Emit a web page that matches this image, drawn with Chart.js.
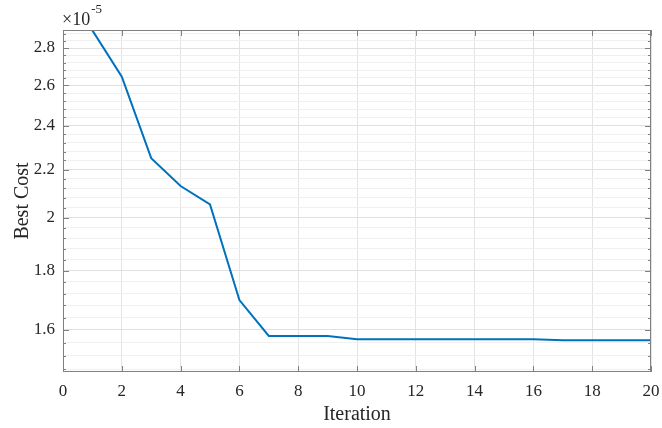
<!DOCTYPE html>
<html>
<head>
<meta charset="utf-8">
<script src="https://cdn.jsdelivr.net/npm/chart.js@4.4.1/dist/chart.umd.min.js"></script>
<style>
  html, body { margin: 0; padding: 0; background: #ffffff; }
  #wrap { width: 662px; height: 428px; }
</style>
</head>
<body>
<div id="wrap"><canvas id="c" width="662" height="428"></canvas></div>
<script>
// ---- data (Best Cost shown in units of 1e-5) ----
const iterations = [1,2,3,4,5,6,7,8,9,10,11,12,13,14,15,16,17,18,19,20];
const bestCost = [2.90,2.645,2.25,2.129,2.053,1.698,1.581,1.581,1.581,1.571,1.571,1.571,1.571,1.571,1.571,1.571,1.568,1.568,1.568,1.568];
const xTicks = [0,2,4,6,8,10,12,14,16,18,20];
const yMajorTicks = [1.6,1.8,2,2.2,2.4,2.6,2.8];
const yMinorTicks = [1.48,1.52,1.56,1.64,1.68,1.72,1.76,1.84,1.88,1.92,1.96,2.04,2.08,2.12,2.16,2.24,2.28,2.32,2.36,2.44,2.48,2.52,2.56,2.64,2.68,2.72,2.76,2.84,2.88];
const yRange = [1.472, 2.902];
const xRange = [0, 20];
const xLabel = 'Iteration';
const yLabel = 'Best Cost';
const exponentText = ['\u00d710', '-5'];

const isMajorY = v => yMajorTicks.some(m => Math.abs(m - v) < 1e-6);
const FONT = '"Liberation Serif", "Times New Roman", serif';

const boxPlugin = {
  id: 'matlabBox',
  afterDraw(chart) {
    const {ctx, chartArea: a, scales} = chart;
    const xs = scales.x, ys = scales.y;
    ctx.save();
    ctx.strokeStyle = '#808080';
    ctx.lineWidth = 1;
    // ticks on all four sides, pointing inward
    ctx.beginPath();
    xTicks.forEach(v => {
      const px = Math.round(xs.getPixelForValue(v)) + 0.5;
      ctx.moveTo(px, a.bottom); ctx.lineTo(px, a.bottom - 6);
      ctx.moveTo(px, a.top); ctx.lineTo(px, a.top + 6);
    });
    const allY = yMajorTicks.map(v => [v, 6]).concat(yMinorTicks.map(v => [v, 3]));
    allY.forEach(([v, len]) => {
      const py = Math.round(ys.getPixelForValue(v)) + 0.5;
      ctx.moveTo(a.left, py); ctx.lineTo(a.left + len, py);
      ctx.moveTo(a.right, py); ctx.lineTo(a.right - len, py);
    });
    ctx.stroke();
    // box
    ctx.strokeRect(Math.round(a.left) + 0.5, Math.round(a.top) + 0.5,
                   Math.round(a.right - a.left) - 1, Math.round(a.bottom - a.top) - 1);
    // exponent label
    ctx.fillStyle = '#262626';
    ctx.textBaseline = 'alphabetic';
    ctx.textAlign = 'left';
    ctx.font = '18px ' + FONT;
    const x0 = a.left - 1;
    ctx.fillText(exponentText[0], x0, a.top - 5);
    const w = ctx.measureText(exponentText[0]).width;
    ctx.font = '13px ' + FONT;
    ctx.fillText(exponentText[1], x0 + w + 1, a.top - 17);
    ctx.restore();
  }
};

new Chart(document.getElementById('c'), {
  type: 'line',
  data: {
    datasets: [{
      data: iterations.map((x, i) => ({x: x, y: bestCost[i]})),
      borderColor: '#0072BD',
      borderWidth: 2,
      pointRadius: 0,
      tension: 0,
      fill: false
    }]
  },
  options: {
    responsive: false,
    animation: false,
    devicePixelRatio: 1,
    layout: { padding: { top: 30, right: 11, left: 0, bottom: 0 } },
    plugins: { legend: { display: false }, tooltip: { enabled: false } },
    scales: {
      x: {
        type: 'linear',
        min: xRange[0], max: xRange[1],
        afterBuildTicks: s => { s.ticks = xTicks.map(v => ({value: v})); },
        afterFit: s => { s.height = 56; s.paddingLeft = 0; s.paddingRight = 0; },
        border: { display: false },
        grid: { color: '#e3e3e3', drawTicks: false, lineWidth: 1 },
        ticks: { autoSkip: false, maxRotation: 0, padding: 9, color: '#262626',
                 font: { family: FONT, size: 17 }, callback: v => String(v) },
        title: { display: true, text: xLabel, color: '#262626',
                 font: { family: FONT, size: 20 }, padding: { top: 0, bottom: 1 } }
      },
      y: {
        type: 'logarithmic',
        min: yRange[0], max: yRange[1],
        afterBuildTicks: s => {
          s.ticks = yMajorTicks.concat(yMinorTicks).sort((a, b) => a - b).map(v => ({value: v}));
        },
        afterFit: s => { s.width = 63; s.paddingTop = 0; s.paddingBottom = 0; },
        border: { display: false },
        grid: {
          drawTicks: false,
          lineWidth: 1,
          color: c => (c.tick && isMajorY(c.tick.value)) ? '#e0e0e0' : '#f0f0f0'
        },
        ticks: { autoSkip: false, padding: 8, color: '#262626',
                 font: { family: FONT, size: 17 },
                 callback: v => isMajorY(v) ? String(Math.round(v * 10) / 10) : '' },
        title: { display: true, text: yLabel, color: '#262626',
                 font: { family: FONT, size: 20 }, padding: { top: 11, bottom: 0 } }
      }
    }
  },
  plugins: [boxPlugin]
});
</script>
</body>
</html>
